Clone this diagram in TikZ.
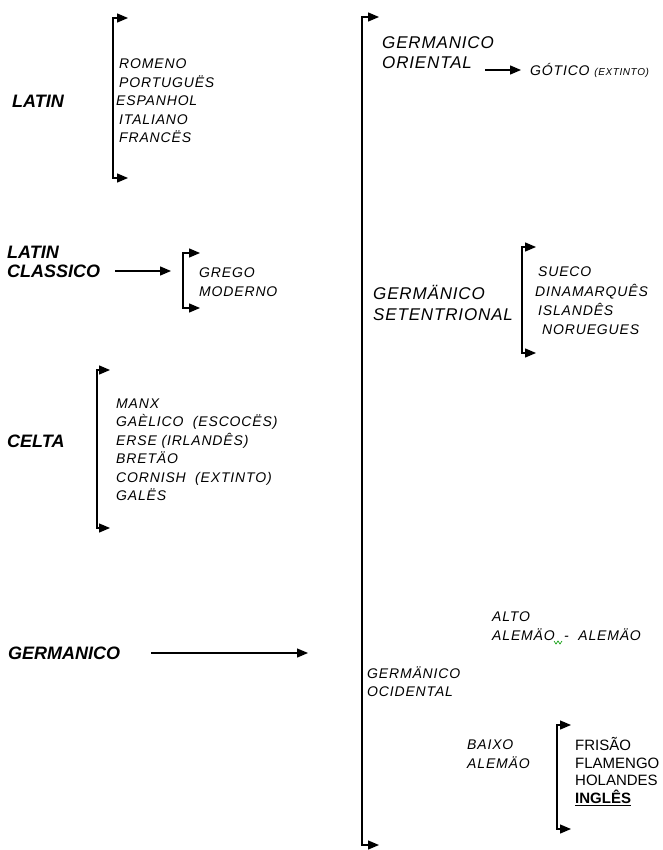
\documentclass[tikz,border=0pt]{standalone}
\usepackage{fontspec}
\setmainfont{Liberation Sans}
\newfontfamily\spfont[LetterSpace=6]{Liberation Sans}
\newfontfamily\gpfont[LetterSpace=5]{Liberation Sans}
\usetikzlibrary{arrows.meta}
\begin{document}
\begin{tikzpicture}[x=1pt,y=-1pt,
  mainlbl/.style={font=\fontsize{18}{19}\selectfont\bfseries\itshape, anchor=west, inner sep=0pt, align=left},
  grplbl/.style={font=\gpfont\fontsize{17}{20}\selectfont\itshape, anchor=west, inner sep=0pt, align=left},
  sublist/.style={font=\spfont\fontsize{14}{18.5}\selectfont\itshape, anchor=west, inner sep=0pt, align=left},
  uplist/.style={font=\fontsize{15}{17.7}\selectfont, anchor=west, inner sep=0pt, align=left},
  arr/.style={line width=1.3pt, -{Triangle[length=11pt,width=9pt]}},
  brk/.style={line width=1.3pt, {Triangle[length=11pt,width=9pt]}-{Triangle[length=11pt,width=9pt]}}
]
\useasboundingbox (0,0) rectangle (662,850);

% LATIN
\node[mainlbl] (latin) at (12,101) {LATIN};
\coordinate (lat1) at (128,18);
\coordinate (lat2) at (113,18);
\coordinate (lat3) at (113,178);
\coordinate (lat4) at (128,178);
\draw[brk] (lat1) -- (lat2) -- (lat3) -- (lat4);
\node[sublist] (latlist) at (119,101) {ROMENO\\PORTUGUËS\\\hspace*{-3pt}ESPANHOL\\ITALIANO\\FRANCËS};

% LATIN CLASSICO
\node[mainlbl] (latcl) at (7,261.5) {LATIN\\CLASSICO};
\coordinate (gr1) at (200,253);
\coordinate (gr2) at (183,253);
\coordinate (gr3) at (183,308);
\coordinate (gr4) at (200,308);
\draw[arr] ([xshift=15pt]latcl.east |- 0,271) -- (171,271);
\draw[brk] (gr1) -- (gr2) -- (gr3) -- (gr4);
\node[sublist] (grego) at (199,282) {GREGO\\MODERNO};

% CELTA
\node[mainlbl] (celta) at (7,441) {CELTA};
\coordinate (ce1) at (110,370);
\coordinate (ce2) at (97,370);
\coordinate (ce3) at (97,528);
\coordinate (ce4) at (110,528);
\draw[brk] (ce1) -- (ce2) -- (ce3) -- (ce4);
\node[sublist] (celist) at (116,449.5) {MANX\\GAÈLICO\ \ (ESCOCËS)\\ERSE (IRLANDÊS)\\BRETÄO\\CORNISH\ \ (EXTINTO)\\GALËS};

% GERMANICO
\node[mainlbl] (germ) at (8,653) {GERMANICO};
\coordinate (gend) at (308,653);
\draw[arr] ([xshift=31pt]germ.east) -- (gend);

% big bracket
\coordinate (gb1) at (379,17);
\coordinate (gb2) at (362,17);
\coordinate (gb3) at (362,845);
\coordinate (gb4) at (379,845);
\draw[brk] (gb1) -- (gb2) -- (gb3) -- (gb4);

% Oriental
\node[grplbl] (orient) at (382,53) {GERMANICO\\ORIENTAL};
\node[sublist, anchor=west] (gotico) at (530,70) {GÓTICO {\fontsize{10}{11}\selectfont (EXTINTO)}};
\draw[arr] (485,70) -- ([xshift=-9pt]gotico.west);

% Setentrional
\node[grplbl, font=\gpfont\fontsize{17}{21}\selectfont\itshape] (setent) at (373,302.5) {GERMÄNICO\\SETENTRIONAL};
\coordinate (se1) at (536,247);
\coordinate (se2) at (522,247);
\coordinate (se3) at (522,353);
\coordinate (se4) at (536,353);
\draw[brk] (se1) -- (se2) -- (se3) -- (se4);
\node[sublist, font=\spfont\fontsize{14}{19.3}\selectfont\itshape] (selist) at (535,301) {\hspace*{3pt}SUECO\\DINAMARQUÊS\\\hspace*{3pt}ISLANDÊS\\\hspace*{7pt}NORUEGUES};

% Ocidental
\node[sublist, font=\spfont\fontsize{14}{18}\selectfont\itshape] (ocid) at (367,682) {GERMÄNICO\\OCIDENTAL};
\node[sublist, font=\spfont\fontsize{14}{19}\selectfont\itshape] (alto) at (492,626.5) {ALTO\\ALEMÄO\ \ -\ \ ALEMÄO};
\draw[green!60!black, line width=0.6pt] (554,641) -- (556,644) -- (558,641) -- (560,644) -- (562,641);

\node[sublist] (baixo) at (467,754) {BAIXO\\ALEMÄO};
\coordinate (bx1) at (571,725);
\coordinate (bx2) at (557,725);
\coordinate (bx3) at (557,829);
\coordinate (bx4) at (571,829);
\draw[brk] (bx1) -- (bx2) -- (bx3) -- (bx4);
\node[uplist] (bxlist) at (575,771.5) {FRISÃO\\FLAMENGO\\HOLANDES\\\textbf{\underline{INGLÊS}}};
\end{tikzpicture}
\end{document}
